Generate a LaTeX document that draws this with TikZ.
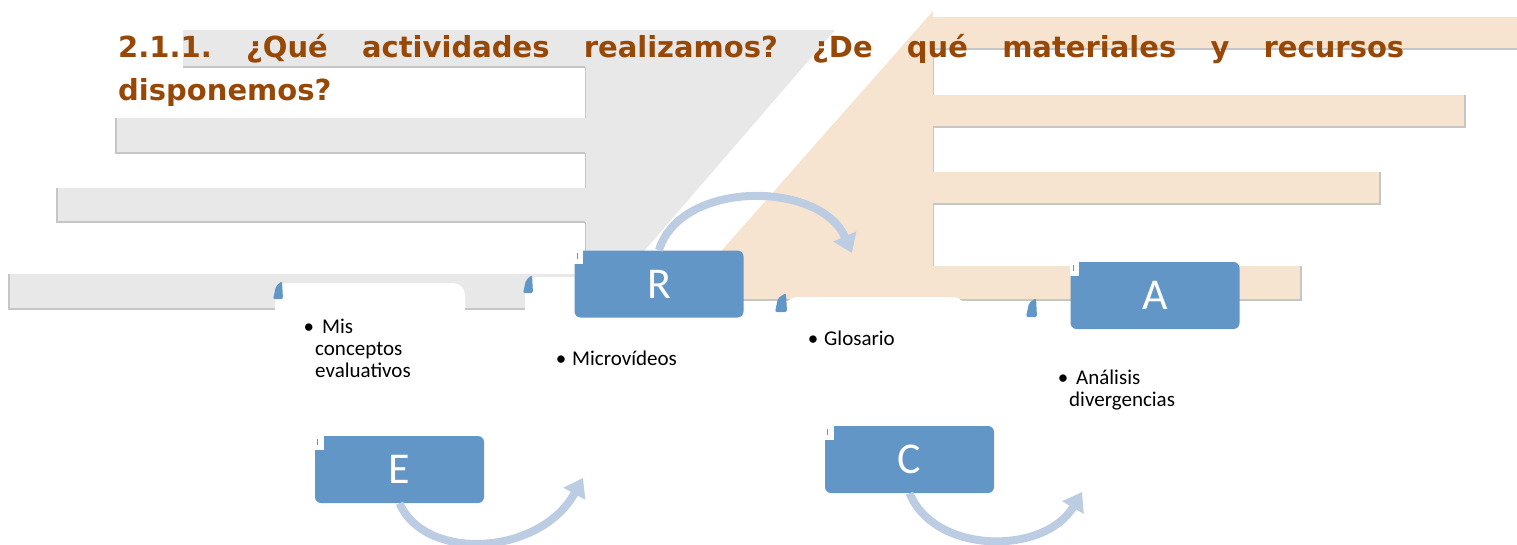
\documentclass[tikz,border=0pt]{standalone}
\usepackage{fontspec}
\setmainfont{Carlito}
\newfontfamily\titlefont{DejaVu Sans}
\usetikzlibrary{arrows.meta}

\definecolor{titlebrown}{RGB}{151,72,6}
\definecolor{boxblue}{RGB}{98,150,199}
\definecolor{arcblue}{RGB}{188,204,227}
\definecolor{bargray}{RGB}{232,232,232}
\definecolor{barpeach}{RGB}{246,228,209}
\definecolor{edgegray}{RGB}{198,198,198}

\begin{document}
\begin{tikzpicture}[x=1pt, y=-1pt,
  grayband/.style={fill=bargray},
  peachband/.style={fill=barpeach},
  bandedge/.style={draw=edgegray, line width=1.5pt},
  pane/.style={fill=white, rounded corners=12pt},
  tab/.style={fill=boxblue, rounded corners=2pt},
  letterbox/.style={fill=boxblue, rounded corners=6pt, minimum width=169pt, minimum height=67pt,
    inner sep=0pt, text=white, font=\fontsize{44}{44}\selectfont},
  bullettext/.style={anchor=base west, align=left, inner sep=0pt, font=\fontsize{21}{22}\selectfont},
  titletext/.style={anchor=base west, inner sep=0pt, text=titlebrown,
    font=\titlefont\bfseries\fontsize{29}{29}\selectfont},
  cyclearrow/.style={draw=arcblue, line width=8pt, -{Triangle[width=24pt,length=18pt]}}
]
  \useasboundingbox (0,0) rectangle (1517,544);

  % Gray bands on the left
  \fill[grayband] (585,30) -- (835,30) -- (594,309) -- (585,309) -- cycle;
  \fill[grayband] (183,30) rectangle (585,67);
  \fill[grayband] (116,118) rectangle (585,153);
  \fill[grayband] (57,188) rectangle (585,222);
  \fill[grayband] (9,274) rectangle (594,309);
  \draw[bandedge] (183,67) -- (585,67);
  \draw[bandedge] (116,118) -- (116,153) -- (585,153);
  \draw[bandedge] (57,188) -- (57,222) -- (585,222);
  \draw[bandedge] (9,274) -- (9,309) -- (594,309);
  \draw[edgegray, line width=1pt] (585,67) -- (585,118) (585,153) -- (585,188) (585,222) -- (585,274);

  % Peach bands on the right
  \fill[peachband] (933,11) -- (933,300) -- (678,300) -- cycle;
  \fill[peachband] (933,17) rectangle (1517,49);
  \fill[peachband] (933,95) rectangle (1465,127);
  \fill[peachband] (933,172) rectangle (1380,204);
  \fill[peachband] (933,266) rectangle (1301,300);
  \draw[bandedge] (933,49) -- (1517,49);
  \draw[bandedge] (933,127) -- (1465,127) -- (1465,95);
  \draw[bandedge] (933,204) -- (1380,204) -- (1380,172);
  \draw[bandedge] (678,300) -- (1301,300) -- (1301,266);
  \draw[edgegray, line width=1pt] (933,49) -- (933,95) (933,127) -- (933,172) (933,204) -- (933,266);

  % Title
  \node[titletext] (titleA) at (118,57) {\hbox to 1286pt{2.1.1.\hfill ¿Qué\hfill actividades\hfill
    realizamos?\hfill ¿De\hfill qué\hfill materiales\hfill y\hfill recursos}};
  \node[titletext] (titleB) at (118,100) {disponemos?};

  % White panes over the lowest bands
  \fill[pane] (275,330) -- (275,283) -- (465,283) -- (465,330);
  \fill[pane] (525,330) -- (525,277) -- (590,277) -- (590,330);
  \fill[pane] (785,330) -- (785,297) -- (965,297) -- (965,330);

  % Small blue tabs
  \fill[tab] (273,299) -- (276,286) -- (282,281) -- (283,299) -- cycle;
  \fill[tab] (523,293) -- (526,280) -- (532,275) -- (533,293) -- cycle;
  \fill[tab] (775,312) -- (778,298) -- (786,293) -- (787,312) -- cycle;
  \fill[tab] (1026,317) -- (1029,303) -- (1036,298) -- (1037,317) -- cycle;

  % Letter boxes
  \node[letterbox] (R) at (659,284) {R};
  \node[letterbox] (A) at (1155,295.5) {A};
  \node[letterbox] (E) at (399.5,469.5) {E};
  \node[letterbox] (C) at (909.5,459.5) {C};
  \fill[white] (R.north west) rectangle ++(9,14);
  \fill[white] (A.north west) rectangle ++(9,14);
  \fill[white] (E.north west) rectangle ++(9,14);
  \fill[white] (C.north west) rectangle ++(9,14);
  \draw[boxblue, line width=1.2pt] (R.north west) ++(3,3) -- ++(0,6);
  \draw[boxblue, line width=1.2pt] (A.north west) ++(3,3) -- ++(0,6);
  \draw[boxblue, line width=1.2pt] (E.north west) ++(3,3) -- ++(0,6);
  \draw[boxblue, line width=1.2pt] (C.north west) ++(3,3) -- ++(0,6);

  % Curved arrows
  \coordinate (rEnd) at (852,253);
  \coordinate (eEnd) at (583,478);
  \coordinate (cEnd) at (1082,492);
  \draw[cyclearrow] (R.north) .. controls (680,180) and (820,180) .. (rEnd);
  \draw[cyclearrow] (E.south) .. controls (425,562) and (540,556) .. (eEnd);
  \draw[cyclearrow] (C.south) .. controls (935,555) and (1045,555) .. (cEnd);

  % Bullet texts (base is the last line)
  \node[bullettext] (mis) at (315,377) {\llap{•\hspace{1pt}}\hspace{7pt}Mis\\conceptos\\evaluativos};
  \node[bullettext] (micro) at (572,365) {\llap{•\hspace{6pt}}Microvídeos};
  \node[bullettext] (glos) at (824,345) {\llap{•\hspace{6pt}}Glosario};
  \node[bullettext] (anal) at (1069,406) {\llap{•\hspace{1pt}}\hspace{7pt}Análisis\\divergencias};

\end{tikzpicture}
\end{document}
